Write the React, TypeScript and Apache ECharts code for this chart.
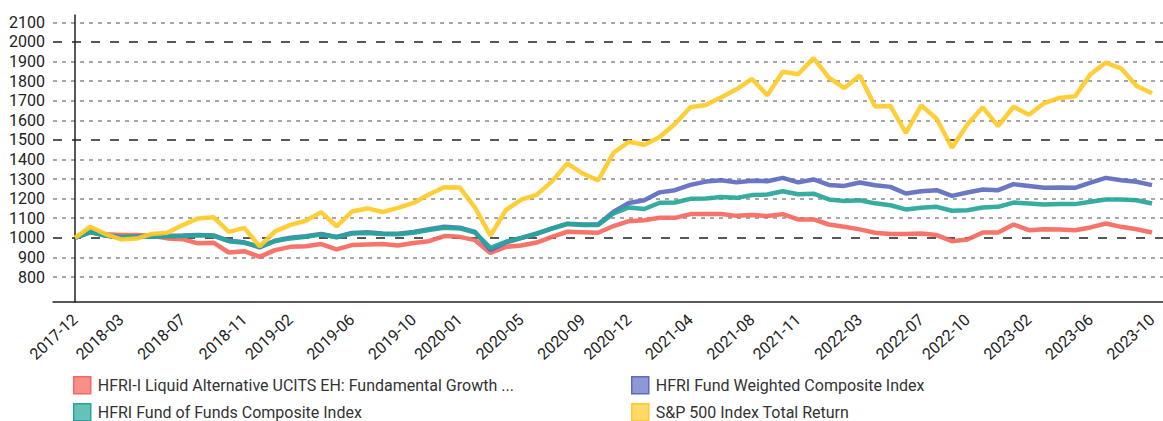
import React, { useEffect, useRef } from "react";
import * as echarts from "echarts";

const months = [
  "2017-12",
  "2018-01","2018-02","2018-03","2018-04","2018-05","2018-06","2018-07","2018-08","2018-09","2018-10","2018-11","2018-12",
  "2019-01","2019-02","2019-03","2019-04","2019-05","2019-06","2019-07","2019-08","2019-09","2019-10","2019-11","2019-12",
  "2020-01","2020-02","2020-03","2020-04","2020-05","2020-06","2020-07","2020-08","2020-09","2020-10","2020-11","2020-12",
  "2021-01","2021-02","2021-03","2021-04","2021-05","2021-06","2021-07","2021-08","2021-09","2021-10","2021-11","2021-12",
  "2022-01","2022-02","2022-03","2022-04","2022-05","2022-06","2022-07","2022-08","2022-09","2022-10","2022-11","2022-12",
  "2023-01","2023-02","2023-03","2023-04","2023-05","2023-06","2023-07","2023-08","2023-09","2023-10",
];

const shownLabels = [
  "2017-12","2018-03","2018-07","2018-11","2019-02","2019-06","2019-10","2020-01","2020-05","2020-09",
  "2020-12","2021-04","2021-08","2021-11","2022-03","2022-07","2022-10","2023-02","2023-06","2023-10",
];

const uscitsGrowth = [
  1000, 1038, 1018, 1014, 1014, 1010, 997, 993, 972, 975, 925, 932, 903,
  937, 954, 957, 968, 941, 963, 966, 968, 961, 974, 983, 1009,
  1005, 988, 923, 954, 961, 976, 1005, 1031, 1029, 1026, 1060, 1085,
  1090, 1102, 1102, 1121, 1121, 1121, 1112, 1116, 1111, 1121, 1094, 1094,
  1068, 1056, 1043, 1026, 1020, 1019, 1022, 1014, 983, 991, 1027, 1027,
  1068, 1039, 1044, 1043, 1039, 1053, 1073, 1056, 1044, 1027,
];

const fundWeighted = [
  1000, 1028, 1012, 1004, 1006, 1008, 1010, 1012, 1015, 1012, 985, 977, 951,
  985, 1000, 1008, 1020, 1004, 1025, 1028, 1022, 1021, 1030, 1044, 1056,
  1052, 1030, 937, 976, 998, 1020, 1048, 1072, 1068, 1068, 1133, 1178,
  1192, 1232, 1243, 1270, 1287, 1294, 1283, 1291, 1289, 1306, 1283, 1298,
  1270, 1265, 1282, 1268, 1260, 1226, 1238, 1243, 1214, 1231, 1247, 1243,
  1274, 1265, 1256, 1257, 1255, 1282, 1306, 1294, 1286, 1269,
];

const fundOfFunds = [
  1000, 1030, 1010, 1003, 1005, 1006, 1008, 1009, 1013, 1010, 983, 975, 955,
  983, 997, 1005, 1017, 1003, 1022, 1025, 1019, 1018, 1026, 1040, 1051,
  1048, 1027, 949, 980, 1000, 1022, 1047, 1070, 1066, 1066, 1124, 1155,
  1147, 1179, 1180, 1199, 1201, 1208, 1204, 1218, 1221, 1238, 1222, 1225,
  1196, 1188, 1192, 1176, 1166, 1145, 1153, 1158, 1138, 1141, 1155, 1158,
  1180, 1175, 1170, 1172, 1172, 1184, 1196, 1196, 1192, 1175,
];

const sp500 = [
  1000, 1057, 1018, 992, 996, 1020, 1026, 1065, 1099, 1105, 1030, 1051, 956,
  1033, 1066, 1087, 1131, 1059, 1134, 1150, 1132, 1153, 1178, 1221, 1258,
  1257, 1154, 1011, 1141, 1195, 1219, 1288, 1380, 1328, 1293, 1434, 1490,
  1475, 1515, 1582, 1666, 1678, 1717, 1758, 1811, 1727, 1848, 1835, 1917,
  1818, 1764, 1829, 1670, 1673, 1535, 1676, 1608, 1460, 1578, 1666, 1570,
  1669, 1628, 1688, 1714, 1722, 1835, 1894, 1864, 1775, 1738,
];

const seriesNames = [
  "HFRI-I Liquid Alternative UCITS EH: Fundamental Growth ...",
  "HFRI Fund Weighted Composite Index",
  "HFRI Fund of Funds Composite Index",
  "S&P 500 Index Total Return",
];
const seriesColors = ["#f6685e", "#5c6bc0", "#26a69a", "#ffca28"];
const legendFills = ["#f8908a", "#8e98d5", "#66c1b8", "#ffda6a"];

const yMin = 800;
const yMax = 2100;
const yStep = 100;

export default function App() {
  const ref = useRef<HTMLDivElement>(null);

  useEffect(() => {
    if (!ref.current) return;
    const chart = echarts.init(ref.current, undefined, { renderer: "svg" });

    const top = 22.3;
    const bottom = 277;
    const h = bottom - top;
    const k = h / (yMax - yMin);
    const darkTop = top + (yMax - 2000) * k;
    const darkH = (2000 - 1000) * k;
    const gray = "#8a8a8a";
    const font = "Roboto";

    const allData = [uscitsGrowth, fundWeighted, fundOfFunds, sp500];

    const legendPos = [
      { left: 68, top: 371 },
      { left: 626, top: 371 },
      { left: 68, top: 398 },
      { left: 626, top: 398 },
    ];

    const legends = seriesNames.map((name, i) => ({
      ...legendPos[i],
      orient: "horizontal",
      itemWidth: 17,
      itemHeight: 17,
      itemGap: 0,
      icon: "rect",
      selectedMode: false,
      textStyle: {
        fontFamily: font,
        fontSize: 16,
        color: "#333",
        padding: [0, 0, 0, 2],
      },
      data: [
        {
          name,
          itemStyle: { color: legendFills[i], borderColor: seriesColors[i], borderWidth: 1.5 },
        },
      ],
    }));

    chart.setOption({
      animation: false,
      textStyle: { fontFamily: font },
      legend: legends,
      grid: [
        { left: 53, right: 0, top, height: h },
        { left: 75, right: 11, top, height: h },
        { left: 53, right: 0, top: darkTop, height: darkH },
        { left: 75, right: 0, top: 15, height: 287 },
      ],
      xAxis: [
        {
          gridIndex: 0,
          type: "value",
          min: 0,
          max: 1,
          position: "bottom",
          offset: 25,
          axisLine: { show: true, onZero: false, lineStyle: { color: "#222", width: 1.5 } },
          axisTick: { show: false },
          axisLabel: { show: false },
          splitLine: { show: false },
        },
        {
          gridIndex: 1,
          type: "category",
          data: months,
          boundaryGap: false,
          position: "bottom",
          offset: 25,
          axisLine: { show: false },
          axisTick: { show: false },
          splitLine: { show: false },
          axisLabel: {
            rotate: 43,
            margin: 15,
            fontSize: 16,
            color: "#222",
            fontFamily: font,
            interval: (_idx: number, val: string) => shownLabels.includes(val),
          },
        },
        { gridIndex: 2, type: "value", min: 0, max: 1, show: false },
        { gridIndex: 3, type: "value", min: 0, max: 1, show: false },
      ],
      yAxis: [
        {
          gridIndex: 0,
          type: "value",
          min: yMin,
          max: yMax,
          interval: yStep,
          axisLine: { show: false },
          axisTick: { show: false },
          axisLabel: {
            fontSize: 16,
            color: "#222",
            margin: 8,
            fontFamily: font,
            formatter: (v: number) => String(v),
          },
          splitLine: {
            show: true,
            lineStyle: {
              color: [gray, gray, "rgba(0,0,0,0)", gray, gray],
              type: [4, 5],
              width: 1.5,
            },
          },
        },
        { gridIndex: 1, type: "value", min: yMin, max: yMax, interval: yStep, show: false },
        {
          gridIndex: 2,
          type: "value",
          min: 1000,
          max: 2000,
          interval: 500,
          axisLine: { show: false },
          axisTick: { show: false },
          axisLabel: { show: false },
          splitLine: { show: true, lineStyle: { color: "#222", type: [9, 10], width: 1.5 } },
        },
        {
          gridIndex: 3,
          type: "value",
          min: 0,
          max: 1,
          axisLine: { show: true, lineStyle: { color: "#222", width: 1.5 } },
          axisTick: { show: false },
          axisLabel: { show: false },
          splitLine: { show: false },
        },
      ],
      series: allData.map((d, i) => ({
        name: seriesNames[i],
        type: "line",
        xAxisIndex: 1,
        yAxisIndex: 1,
        data: d,
        showSymbol: false,
        symbol: "none",
        color: seriesColors[i],
        lineStyle: { width: 4.5, color: seriesColors[i], opacity: 0.92 },
        z: 3 + i,
      })),
    });

    return () => chart.dispose();
  }, []);

  return (
    <div
      ref={ref}
      style={{ position: "absolute", left: 0, top: 0, width: 1163, height: 421 }}
    />
  );
}
